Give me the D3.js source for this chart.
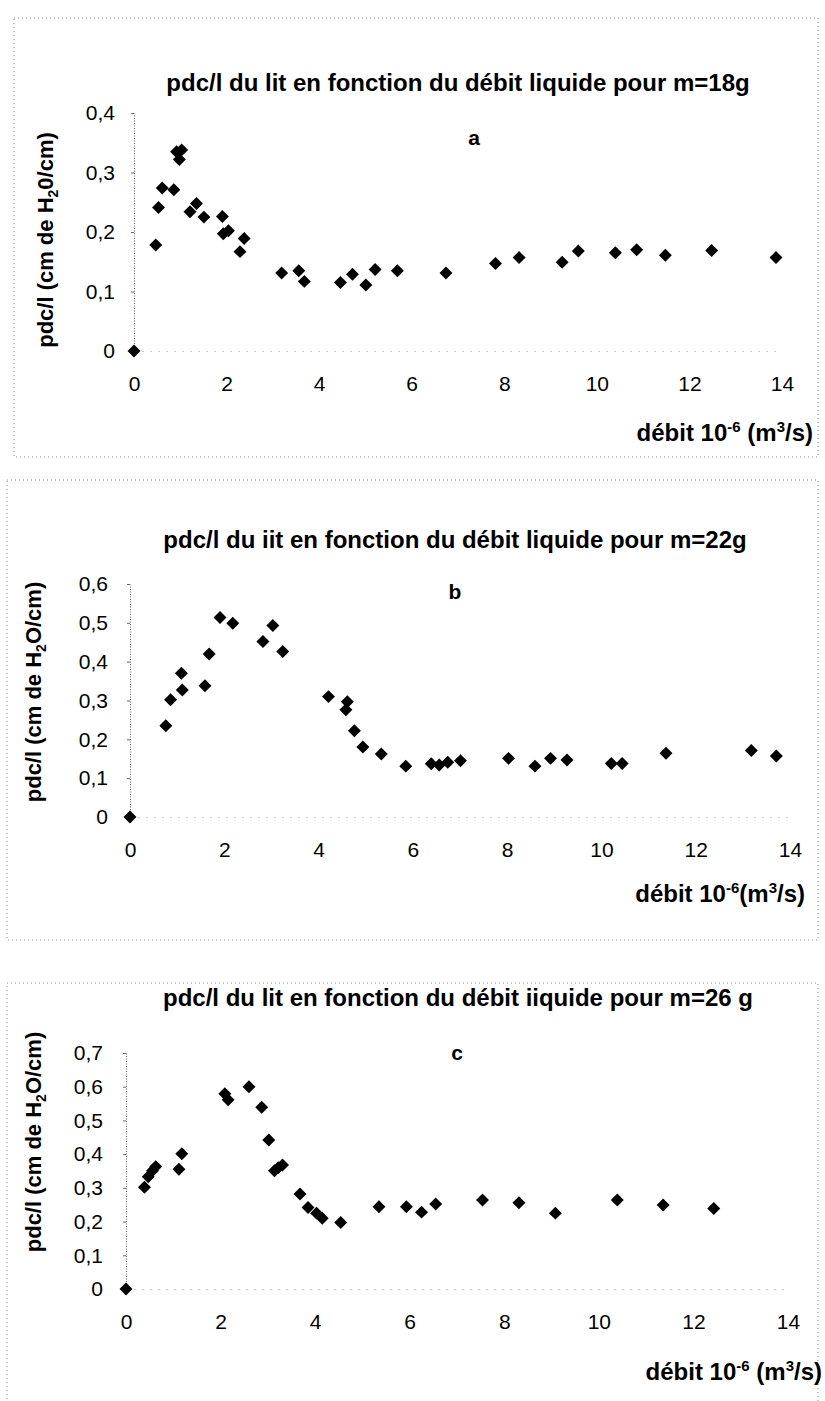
<!DOCTYPE html>
<head>
<meta charset="utf-8">
<title>pdc/l du lit en fonction du débit liquide</title>
<script src="https://d3js.org/d3.v7.min.js"></script>
<style>
body {
  margin: 0;
  background: #fff;
  font-family: "Liberation Sans", Arial, sans-serif;
}
svg { display: block; }
.frame { fill: none; stroke: #8a8a8a; stroke-width: 1; stroke-dasharray: 1,3; }
.y.axis .domain { stroke: #666; stroke-dasharray: 1,1.5; }
.y.axis line { stroke: #666; }
.x.axis .domain { stroke: #999; stroke-dasharray: 1,7; }
.axis text { font-size: 21px; fill: #000; font-family: "Liberation Sans", Arial, sans-serif; }
.title, .xtitle, .ytitle, .letter { font-weight: bold; fill: #000; }
.title { font-size: 24px; }
.xtitle { font-size: 24px; }
.ytitle { font-size: 22px; }
.letter { font-size: 21px; }
</style>
</head>
<body>
<script>

// ---- data ----
const xA = [0, 0.47, 0.53, 0.61, 0.86, 0.92, 1.03, 0.98, 1.21, 1.35, 1.51, 1.91, 1.93, 2.04, 2.38, 2.29,
  3.19, 3.56, 3.68, 4.46, 4.72, 5.01, 5.21, 5.69, 6.74, 7.81, 8.32, 9.25, 9.60, 10.40, 10.86, 11.48, 12.48, 13.87];
const yA = [0, 0.178, 0.241, 0.274, 0.271, 0.335, 0.338, 0.322, 0.234, 0.248, 0.225, 0.226, 0.197, 0.202, 0.189, 0.167,
  0.131, 0.135, 0.117, 0.115, 0.129, 0.111, 0.137, 0.135, 0.131, 0.147, 0.157, 0.149, 0.168, 0.165, 0.170, 0.161, 0.169, 0.157];

const xB = [0, 0.76, 0.86, 1.09, 1.11, 1.59, 1.68, 1.91, 2.18, 2.82, 3.03, 3.24, 4.21, 4.61, 4.58, 4.76, 4.94,
  5.33, 5.85, 6.39, 6.56, 6.74, 7.01, 8.03, 8.59, 8.92, 9.27, 10.21, 10.44, 11.37, 13.18, 13.71];
const yB = [0, 0.235, 0.302, 0.370, 0.327, 0.338, 0.420, 0.514, 0.499, 0.452, 0.493, 0.426, 0.310, 0.297, 0.276, 0.222, 0.180,
  0.162, 0.131, 0.137, 0.134, 0.141, 0.145, 0.151, 0.131, 0.151, 0.147, 0.138, 0.138, 0.164, 0.171, 0.157];

const xC = [0, 0.39, 0.47, 0.56, 0.63, 1.12, 1.18, 2.09, 2.16, 2.60, 2.87, 3.02, 3.14, 3.22, 3.31, 3.68, 3.85, 4.03, 4.15,
  4.54, 5.35, 5.93, 6.25, 6.55, 7.54, 8.31, 9.08, 10.39, 11.36, 12.43];
const yC = [0, 0.302, 0.333, 0.351, 0.363, 0.355, 0.401, 0.579, 0.561, 0.600, 0.539, 0.442, 0.351, 0.360, 0.368, 0.282, 0.242, 0.225, 0.210,
  0.197, 0.244, 0.244, 0.228, 0.252, 0.264, 0.256, 0.225, 0.264, 0.249, 0.239];

const xTicks = [0, 2, 4, 6, 8, 10, 12, 14];
const yTicksA = [0, 0.1, 0.2, 0.3, 0.4];
const yTicksB = [0, 0.1, 0.2, 0.3, 0.4, 0.5, 0.6];
const yTicksC = [0, 0.1, 0.2, 0.3, 0.4, 0.5, 0.6, 0.7];

const titles = [
  "pdc/l du lit en fonction du débit liquide pour m=18g",
  "pdc/l du iit en fonction du débit liquide pour m=22g",
  "pdc/l du lit en fonction du débit iiquide pour m=26 g"
];
const letters = ["a", "b", "c"];
const yUnits = ["0/cm)", "O/cm)", "O/cm)"];
const xTitleGap = [" (m", "(m", " (m"];

// ---- layout (pixel boxes) ----
const width = 825, height = 1401;

const panels = [
  {x: xA, y: yA, yTicks: yTicksA, frame: [14, 18, 818, 457], left: 134, right: 782, bottom: 351, top: 113,
   ypad: 16, titleY: 91, titleX: 458, letter: [474, 145], xTitle: [813, 441], yTitle: [45, 240]},
  {x: xB, y: yB, yTicks: yTicksB, frame: [7, 480, 818, 940], left: 130, right: 790, bottom: 817, top: 584,
   ypad: 19, titleY: 548, titleX: 455, letter: [455, 599], xTitle: [805, 902], yTitle: [33, 692]},
  {x: xC, y: yC, yTicks: yTicksC, frame: [7, 983, 818, 1410], left: 126, right: 788, bottom: 1289, top: 1053,
   ypad: 20, titleY: 1006, titleX: 458, letter: [457, 1060], xTitle: [822, 1380], yTitle: [33, 1142]}
];

const fmt = d => d === 0 ? "0" : d3.format(".1f")(d).replace(".", ",");

const svg = d3.select("body").append("svg")
  .attr("width", width)
  .attr("height", height);

const diamond = d3.symbol().type(d3.symbolSquare).size(84);

panels.forEach((p, k) => {
  const g = svg.append("g");

  g.append("rect")
    .attr("class", "frame")
    .attr("x", p.frame[0])
    .attr("y", p.frame[1])
    .attr("width", p.frame[2] - p.frame[0])
    .attr("height", p.frame[3] - p.frame[1]);

  const x = d3.scaleLinear().domain([0, 14]).range([p.left, p.right]);
  const y = d3.scaleLinear().domain([0, d3.max(p.yTicks)]).range([p.bottom, p.top]);

  g.append("text")
    .attr("class", "title")
    .attr("x", p.titleX)
    .attr("y", p.titleY)
    .attr("text-anchor", "middle")
    .text(titles[k]);

  g.append("g")
    .attr("class", "x axis")
    .attr("transform", "translate(0," + p.bottom + ")")
    .call(d3.axisBottom(x).tickValues(xTicks).tickSize(0).tickPadding(25).tickSizeOuter(0));

  g.append("g")
    .attr("class", "y axis")
    .attr("transform", "translate(" + p.left + ",0)")
    .call(d3.axisLeft(y).tickValues(p.yTicks).tickSize(3).tickPadding(p.ypad).tickSizeOuter(0).tickFormat(fmt));

  g.append("text")
    .attr("class", "letter")
    .attr("x", p.letter[0])
    .attr("y", p.letter[1])
    .attr("text-anchor", "middle")
    .text(letters[k]);

  // x axis title with superscripts
  const xt = g.append("text")
    .attr("class", "xtitle")
    .attr("x", p.xTitle[0])
    .attr("y", p.xTitle[1])
    .attr("text-anchor", "end");
  xt.append("tspan").text("débit 10");
  xt.append("tspan").attr("dy", -9).style("font-size", "15px").text("-6");
  xt.append("tspan").attr("dy", 9).text(xTitleGap[k]);
  xt.append("tspan").attr("dy", -9).style("font-size", "15px").text("3");
  xt.append("tspan").attr("dy", 9).text("/s)");

  // y axis title, rotated, with subscript
  const yt = g.append("text")
    .attr("class", "ytitle")
    .attr("text-anchor", "middle")
    .attr("transform", "translate(" + (p.yTitle[0] + 8) + "," + p.yTitle[1] + ") rotate(-90)");
  yt.append("tspan").text("pdc/l (cm de H");
  yt.append("tspan").attr("dy", 5).style("font-size", "14px").text("2");
  yt.append("tspan").attr("dy", -5).text(yUnits[k]);

  g.append("g")
    .selectAll("path")
    .data(p.x.map((v, i) => [v, p.y[i]]))
    .enter().append("path")
      .attr("d", diamond)
      .attr("fill", "#000")
      .attr("transform", d => "translate(" + x(d[0]) + "," + y(d[1]) + ") rotate(45)");
});

</script>
</body>
